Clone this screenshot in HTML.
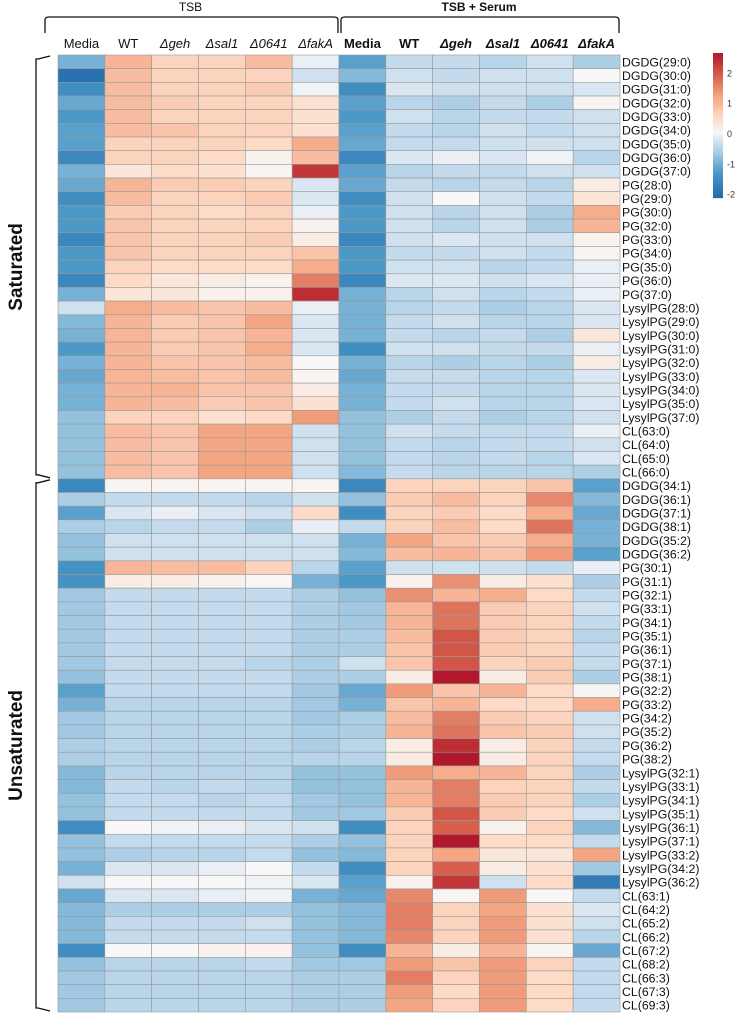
<!DOCTYPE html>
<html><head><meta charset="utf-8"><style>
body{margin:0;background:#fff;font-family:"Liberation Sans",sans-serif;}
svg text{font-family:"Liberation Sans",sans-serif;}
</style></head><body>
<svg id="chart" width="738" height="1016" xmlns="http://www.w3.org/2000/svg"></svg>
<script>
const columns=["Media","WT","Δgeh","Δsal1","Δ0641","ΔfakA","Media","WT","Δgeh","Δsal1","Δ0641","ΔfakA"];
const rowLabels=["DGDG(29:0)","DGDG(30:0)","DGDG(31:0)","DGDG(32:0)","DGDG(33:0)","DGDG(34:0)","DGDG(35:0)","DGDG(36:0)","DGDG(37:0)","PG(28:0)","PG(29:0)","PG(30:0)","PG(32:0)","PG(33:0)","PG(34:0)","PG(35:0)","PG(36:0)","PG(37:0)","LysylPG(28:0)","LysylPG(29:0)","LysylPG(30:0)","LysylPG(31:0)","LysylPG(32:0)","LysylPG(33:0)","LysylPG(34:0)","LysylPG(35:0)","LysylPG(37:0)","CL(63:0)","CL(64:0)","CL(65:0)","CL(66:0)",
"DGDG(34:1)","DGDG(36:1)","DGDG(37:1)","DGDG(38:1)","DGDG(35:2)","DGDG(36:2)","PG(30:1)","PG(31:1)","PG(32:1)","PG(33:1)","PG(34:1)","PG(35:1)","PG(36:1)","PG(37:1)","PG(38:1)","PG(32:2)","PG(33:2)","PG(34:2)","PG(35:2)","PG(36:2)","PG(38:2)","LysylPG(32:1)","LysylPG(33:1)","LysylPG(34:1)","LysylPG(35:1)","LysylPG(36:1)","LysylPG(37:1)","LysylPG(33:2)","LysylPG(34:2)","LysylPG(36:2)","CL(63:1)","CL(64:2)","CL(65:2)","CL(66:2)","CL(67:2)","CL(68:2)","CL(66:3)","CL(67:3)","CL(69:3)"];
const values=[
[-1.0,1.0,0.6,0.6,0.9,-0.1,-1.2,-0.4,-0.4,-0.5,-0.3,-0.6],
[-2.0,0.9,0.6,0.6,0.6,-0.3,-0.9,-0.3,-0.4,-0.3,-0.3,0.0],
[-1.5,0.9,0.6,0.6,0.7,-0.05,-1.5,-0.2,-0.3,-0.3,-0.3,-0.2],
[-1.1,0.9,0.7,0.6,0.6,0.4,-1.2,-0.5,-0.6,-0.4,-0.6,0.05],
[-1.3,0.9,0.6,0.6,0.6,0.4,-1.3,-0.3,-0.5,-0.4,-0.4,-0.3],
[-1.2,0.9,0.8,0.6,0.6,0.4,-1.2,-0.4,-0.5,-0.3,-0.4,-0.3],
[-1.2,0.6,0.6,0.6,0.5,1.1,-1.1,-0.4,-0.4,-0.3,-0.3,-0.3],
[-1.6,0.6,0.6,0.5,0.1,0.9,-1.6,-0.2,-0.1,-0.2,-0.05,-0.5],
[-1.0,0.3,0.5,0.4,0.05,2.3,-1.2,-0.5,-0.4,-0.4,-0.3,-0.3],
[-1.1,1.0,0.7,0.7,0.6,-0.2,-1.1,-0.4,-0.5,-0.4,-0.5,0.2],
[-1.5,0.9,0.6,0.6,0.7,-0.2,-1.5,-0.3,0.0,-0.3,-0.4,0.3],
[-1.3,0.7,0.6,0.5,0.6,-0.1,-1.3,-0.3,-0.5,-0.3,-0.6,1.1],
[-1.3,0.8,0.6,0.6,0.6,0.1,-1.3,-0.3,-0.5,-0.3,-0.6,1.0],
[-1.6,0.8,0.6,0.6,0.7,0.2,-1.6,-0.3,-0.2,-0.3,-0.3,0.1],
[-1.3,0.8,0.6,0.6,0.6,0.8,-1.3,-0.4,-0.4,-0.3,-0.4,0.05],
[-1.3,0.6,0.5,0.5,0.5,1.1,-1.3,-0.3,-0.3,-0.5,-0.4,-0.1],
[-1.6,0.5,0.3,0.2,0.1,1.6,-1.6,-0.2,-0.2,-0.3,-0.2,-0.1],
[-1.0,0.3,0.3,0.1,0.1,2.4,-1.0,-0.5,-0.3,-0.5,-0.4,-0.1],
[-0.3,1.1,0.9,0.8,0.9,-0.1,-1.0,-0.5,-0.4,-0.6,-0.5,-0.2],
[-0.9,1.0,0.7,0.8,1.2,-0.2,-1.0,-0.4,-0.3,-0.5,-0.5,-0.2],
[-1.0,1.0,0.7,0.8,1.0,-0.2,-1.0,-0.4,-0.5,-0.4,-0.6,0.3],
[-1.3,1.0,0.7,0.8,1.1,-0.2,-1.5,-0.3,-0.3,-0.4,-0.4,-0.1],
[-1.0,1.0,0.8,0.8,0.9,0.0,-1.0,-0.5,-0.6,-0.5,-0.6,0.2],
[-1.1,1.0,0.9,0.8,0.9,0.05,-1.1,-0.4,-0.4,-0.5,-0.5,-0.2],
[-1.0,1.0,1.0,0.8,0.8,0.2,-1.0,-0.4,-0.4,-0.5,-0.5,-0.2],
[-1.0,1.0,0.9,0.7,0.8,0.4,-1.0,-0.4,-0.3,-0.5,-0.5,-0.2],
[-0.8,0.6,0.6,0.4,0.5,1.3,-0.8,-0.6,-0.4,-0.6,-0.5,-0.3],
[-0.8,0.9,0.8,1.2,1.2,-0.3,-0.8,-0.3,-0.4,-0.4,-0.4,-0.1],
[-0.8,0.9,0.8,1.2,1.2,-0.3,-0.8,-0.4,-0.5,-0.4,-0.4,-0.3],
[-0.8,0.9,0.8,1.2,1.2,-0.3,-0.8,-0.4,-0.5,-0.4,-0.5,-0.2],
[-0.8,0.9,0.8,1.2,1.2,-0.3,-0.9,-0.4,-0.5,-0.5,-0.5,-0.6],
[-1.6,0.05,0.05,0.05,0.05,0.05,-1.6,0.6,0.6,0.6,0.8,-1.2],
[-0.6,-0.4,-0.4,-0.4,-0.5,-0.3,-0.8,0.7,0.9,0.6,1.5,-0.9],
[-1.2,-0.2,-0.1,-0.2,-0.3,0.5,-1.5,0.6,0.7,0.5,1.1,-1.1],
[-0.6,-0.5,-0.4,-0.4,-0.6,-0.1,-0.4,0.6,0.9,0.5,1.7,-1.0],
[-0.8,-0.3,-0.3,-0.3,-0.3,-0.3,-1.0,1.2,0.8,0.7,1.1,-1.0],
[-0.8,-0.3,-0.3,-0.3,-0.3,-0.3,-0.9,0.9,1.0,0.8,1.3,-1.2],
[-1.4,1.0,0.9,0.9,0.6,-0.5,-1.2,-0.3,-0.3,-0.3,-0.4,-0.1],
[-1.4,0.2,0.2,0.1,0.0,-1.0,-1.3,0.1,1.4,0.2,0.4,-0.6],
[-0.7,-0.4,-0.4,-0.4,-0.4,-0.6,-0.8,1.4,1.0,1.1,0.5,-0.4],
[-0.7,-0.4,-0.4,-0.4,-0.4,-0.6,-0.7,1.0,1.7,0.7,0.6,-0.3],
[-0.7,-0.4,-0.4,-0.4,-0.4,-0.6,-0.7,1.0,1.7,0.7,0.6,-0.4],
[-0.7,-0.4,-0.4,-0.4,-0.4,-0.6,-0.6,0.9,2.0,0.7,0.6,-0.5],
[-0.7,-0.4,-0.4,-0.4,-0.4,-0.6,-0.6,0.8,2.0,0.7,0.6,-0.4],
[-0.7,-0.4,-0.4,-0.4,-0.5,-0.6,-0.3,0.8,2.0,0.6,0.7,-0.4],
[-0.8,-0.4,-0.4,-0.4,-0.4,-0.6,-0.6,0.2,2.6,0.2,0.7,-0.6],
[-1.2,-0.4,-0.4,-0.4,-0.4,-0.7,-1.1,1.3,0.8,1.0,0.5,0.05],
[-1.0,-0.5,-0.5,-0.5,-0.5,-0.7,-1.0,0.8,1.0,0.5,0.5,1.1],
[-0.7,-0.5,-0.5,-0.5,-0.5,-0.7,-0.6,0.9,1.6,0.7,0.6,-0.3],
[-0.7,-0.5,-0.5,-0.5,-0.5,-0.6,-0.6,1.0,1.7,0.8,0.7,-0.3],
[-0.6,-0.5,-0.5,-0.5,-0.5,-0.6,-0.5,0.2,2.4,0.2,0.6,-0.4],
[-0.6,-0.5,-0.5,-0.5,-0.5,-0.5,-0.5,0.2,2.6,0.2,0.6,-0.4],
[-0.9,-0.5,-0.5,-0.5,-0.5,-0.8,-0.8,1.3,1.1,1.0,0.6,-0.6],
[-0.9,-0.4,-0.5,-0.4,-0.5,-0.8,-0.8,1.0,1.6,0.6,0.6,-0.4],
[-0.8,-0.4,-0.4,-0.5,-0.4,-0.7,-0.8,1.0,1.6,0.7,0.6,-0.6],
[-0.8,-0.4,-0.4,-0.4,-0.4,-0.7,-0.7,0.7,2.0,0.7,0.5,-0.3],
[-1.5,0.0,-0.05,-0.1,-0.2,-0.3,-1.5,0.6,1.9,0.1,0.6,-0.9],
[-0.8,-0.4,-0.4,-0.4,-0.4,-0.6,-0.8,0.6,2.6,0.5,0.5,-0.4],
[-0.8,-0.6,-0.5,-0.5,-0.4,-0.8,-0.9,0.6,1.2,0.3,0.3,1.2],
[-1.0,-0.2,-0.2,-0.1,0.0,-0.4,-1.5,0.6,1.9,0.2,0.4,-0.7],
[-0.3,0.0,0.0,0.0,-0.05,-0.2,-1.2,0.1,2.3,-0.3,0.5,-1.8],
[-1.1,-0.2,-0.2,-0.1,-0.05,-1.0,-1.1,1.5,0.05,1.3,0.0,-0.4],
[-0.9,-0.6,-0.6,-0.6,-0.6,-0.8,-0.9,1.6,0.6,1.2,0.4,-0.2],
[-0.9,-0.4,-0.4,-0.4,-0.3,-0.8,-0.9,1.6,0.6,1.3,0.4,-0.3],
[-0.9,-0.4,-0.4,-0.4,-0.4,-0.8,-0.9,1.5,0.6,1.3,0.4,-0.5],
[-1.5,0.0,0.0,0.1,0.1,-0.8,-1.5,1.0,0.2,1.0,0.05,-1.1],
[-0.8,-0.5,-0.5,-0.5,-0.4,-0.7,-0.7,1.3,0.8,1.3,0.6,-0.4],
[-0.7,-0.5,-0.5,-0.5,-0.5,-0.6,-0.6,1.6,0.6,1.3,0.5,-0.4],
[-0.7,-0.5,-0.5,-0.5,-0.5,-0.6,-0.6,1.3,0.5,1.3,0.5,-0.4],
[-0.7,-0.5,-0.5,-0.5,-0.5,-0.6,-0.6,1.2,0.6,1.3,0.5,-0.4]];
const legendTicks=[2,1,0,-1,-2];
const groupSizes=[31,39];
const groupNames=["Saturated","Unsaturated"];

const NS="http://www.w3.org/2000/svg";
const svg=document.getElementById('chart');
function mk(tag,attrs,parent){const e=document.createElementNS(NS,tag);for(const k in attrs)e.setAttribute(k,attrs[k]);(parent||svg).appendChild(e);return e;}
const X0=58,X1=620,Y0=55,Y1=1012;
const cw=(X1-X0)/columns.length, rh=(Y1-Y0)/rowLabels.length;
const xPos=i=>X0+i*cw, yPos=j=>Y0+j*rh;
const stops=[[-2.2,[33,102,172]],[-1.33,[72,150,198]],[-0.67,[165,203,228]],[-0.2,[218,231,242]],[0,[247,247,247]],[0.5,[253,219,199]],[1.2,[244,165,130]],[1.9,[214,96,77]],[2.6,[178,24,43]]];
function color(v){if(v<=stops[0][0])return`rgb(${stops[0][1]})`;for(let i=1;i<stops.length;i++){if(v<=stops[i][0]){const a=stops[i-1],b=stops[i],t=(v-a[0])/(b[0]-a[0]);return`rgb(${a[1].map((c,k)=>Math.round(c+(b[1][k]-c)*t)).join(',')})`;}}return`rgb(${stops[stops.length-1][1]})`;}

const g=mk('g',{});


values.forEach((row,j)=>row.forEach((v,i)=>{
  const r=mk('rect',{x:xPos(i),y:yPos(j),width:cw,height:rh,fill:color(v),stroke:'#999','stroke-width':0.6},g);
  
  
}));
rowLabels.forEach((l,j)=>{
  const t=mk('text',{x:X1+2,y:yPos(j)+rh/2+4.5,'font-size':12.3,fill:'#111'});t.textContent=l;
  
  
});
columns.forEach((c,i)=>{
  const it=c.startsWith('Δ'), bold=i>=6;
  const t=mk('text',{x:xPos(i)+cw/2,y:48,'text-anchor':'middle','font-size':13,'font-style':it?'italic':'normal','font-weight':bold?'bold':'normal',fill:'#111'});t.textContent=c;
  
  
});
[[0,6,'TSB','normal'],[6,12,'TSB + Serum','bold']].forEach(([a,b,n,w])=>{
  const xa=xPos(a)-15+(a?15:0), xb=xPos(b)-1;
  const p=mk('path',{d:`M${xa+2},33 L${xa+2},20 Q${xa+2},17 ${xa+6},17 L${xb-4},17 Q${xb},17 ${xb},20 L${xb},33`,fill:'none',stroke:'#111','stroke-width':1.3});
  
  
  const t=mk('text',{x:(xa+xb)/2,y:11,'text-anchor':'middle','font-size':12,'font-weight':w,fill:'#111'});t.textContent=n;
  
  
});
let start=0;
groupSizes.forEach((n,k)=>{
  const ya=yPos(start)+1, yb=yPos(start+n)-1;
  const p=mk('path',{d:`M50,${ya} L38,${ya+3} L36,${ya+3} L36,${yb-3} L38,${yb-3} L50,${yb}`,fill:'none',stroke:'#111','stroke-width':1.3});
  
  
  const cy=(ya+yb)/2;
  const t=mk('text',{x:22,y:cy,'text-anchor':'middle','font-size':19,'font-weight':'bold',fill:'#111',transform:`rotate(-90 22 ${cy})`});t.textContent=groupNames[k];
  
  
  start+=n;
});
const L0=133, LS=30.3, lvTop=2.64, lvBot=-2.15;
const defs=mk('defs',{});
const grad=mk('linearGradient',{id:'lg',x1:0,y1:0,x2:0,y2:1},defs);
for(let s=0;s<=20;s++){const v=lvTop+(lvBot-lvTop)*s/20;mk('stop',{offset:(s*5)+'%','stop-color':color(v)},grad);}
const lb=mk('rect',{x:713,y:L0-lvTop*LS,width:10,height:(lvTop-lvBot)*LS,fill:'url(#lg)'});


legendTicks.forEach(v=>{
  const t=mk('text',{x:727,y:L0-v*LS+4,'font-size':9,fill:'#333'});t.textContent=v;
  
  
});
</script>
</body></html>
